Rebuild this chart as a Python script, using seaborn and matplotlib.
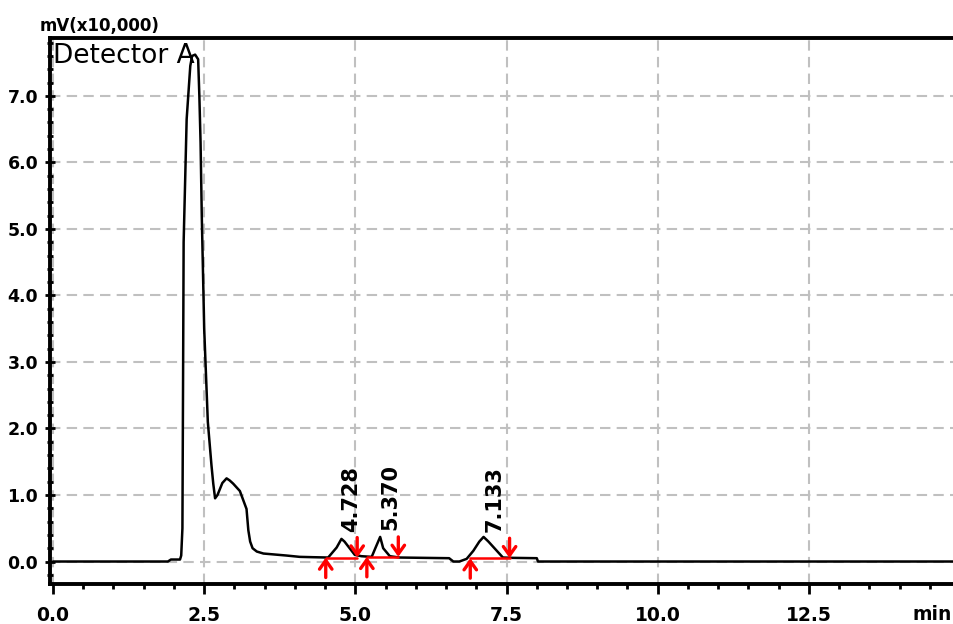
import numpy as np
import pandas as pd
import matplotlib
matplotlib.use("Agg")
import matplotlib.pyplot as plt
from matplotlib.ticker import MultipleLocator, FormatStrFormatter
import seaborn as sns

# Chromatogram trace (min, mV x10,000)
time = [0.0, 1.90, 1.95, 2.10, 2.12, 2.14, 2.15, 2.16, 2.21, 2.27, 2.30, 2.35,
        2.40, 2.42, 2.44, 2.46, 2.50, 2.56, 2.62, 2.65, 2.68, 2.72, 2.80, 2.87,
        2.92, 2.98, 3.09, 3.20, 3.23, 3.26, 3.30, 3.37, 3.48, 3.86, 4.08, 4.30,
        4.55, 4.69, 4.77, 4.82, 4.99, 5.10, 5.27, 5.33, 5.41, 5.46, 5.57, 5.73,
        6.55, 6.62, 6.72, 6.84, 6.95, 7.05, 7.12, 7.20, 7.44, 7.60, 8.00, 8.02,
        15.5]
signal = [0.0, 0.0, 0.03, 0.03, 0.09, 0.5, 2.6, 4.8, 6.65, 7.45, 7.6, 7.62,
          7.55, 7.0, 6.3, 5.2, 3.5, 2.1, 1.45, 1.17, 0.95, 1.0, 1.18, 1.25,
          1.22, 1.17, 1.06, 0.79, 0.47, 0.30, 0.2, 0.15, 0.12, 0.09, 0.07, 0.065,
          0.06, 0.21, 0.34, 0.30, 0.10, 0.08, 0.07, 0.2, 0.37, 0.2, 0.08, 0.06,
          0.05, 0.0, 0.0, 0.04, 0.16, 0.30, 0.37, 0.30, 0.06, 0.055, 0.05, 0.0,
          0.0]

# Integrated peaks
peak_labels = ["4.728", "5.370", "7.133"]
peak_label_x = [4.93, 5.58, 7.31]
peak_label_y = [0.45, 0.47, 0.44]
peak_start = [4.51, 5.19, 6.90]
peak_end = [5.03, 5.71, 7.55]
peak_base = [0.06, 0.07, 0.05]

x_ticks = [0.0, 2.5, 5.0, 7.5, 10.0, 12.5]
y_ticks = [0, 1, 2, 3, 4, 5, 6, 7]

trace = pd.DataFrame({"time": time, "signal": signal})

sns.set_style("white")
plt.rcParams["font.family"] = ["DejaVu Sans"]
plt.rcParams["text.color"] = "black"

fig = plt.figure(figsize=(9.54, 6.24), dpi=100)
ax = fig.add_axes([0.0524, 0.0641, 0.973, 0.875])

ax.set_xlim(-0.05, 15.3)
ax.set_ylim(-0.338, 7.87)

# grid
ax.set_axisbelow(True)
ax.grid(True, which="major", color="#c0c0c0", linestyle=(0, (5, 3)), linewidth=1.5)

sns.lineplot(data=trace, x="time", y="signal", ax=ax, color="black",
             linewidth=1.8, sort=False, estimator=None)

# integration baselines and start/stop arrows
arrow_style = "->,head_length=0.45,head_width=0.32"
for s, e, b in zip(peak_start, peak_end, peak_base):
    ax.plot([s, e], [b, b], color="red", linewidth=1.8, zorder=3)
    ax.annotate("", xy=(s, b), xytext=(s, b - 0.3),
                arrowprops=dict(arrowstyle=arrow_style, color="red", lw=2.4,
                                mutation_scale=14, shrinkA=0, shrinkB=0),
                zorder=4)
    ax.annotate("", xy=(e, b), xytext=(e, b + 0.3),
                arrowprops=dict(arrowstyle=arrow_style, color="red", lw=2.4,
                                mutation_scale=14, shrinkA=0, shrinkB=0),
                zorder=4)

for lab, lx, ly in zip(peak_labels, peak_label_x, peak_label_y):
    ax.text(lx, ly, lab, rotation=90, ha="center", va="bottom",
            fontsize=15, fontweight="bold", color="black")

ax.text(0.0, 7.80, "Detector A", ha="left", va="top", fontsize=19, color="black")

# axes styling
for side in ["left", "top", "bottom"]:
    ax.spines[side].set_linewidth(2.8)
    ax.spines[side].set_color("black")
ax.spines["right"].set_visible(False)

ax.set_xticks(x_ticks)
ax.xaxis.set_major_formatter(FormatStrFormatter("%.1f"))
ax.xaxis.set_minor_locator(MultipleLocator(0.5))
ax.set_yticks(y_ticks)
ax.yaxis.set_major_formatter(FormatStrFormatter("%.1f"))
ax.yaxis.set_minor_locator(MultipleLocator(0.2))

ax.tick_params(axis="x", which="major", direction="out", length=7, width=2,
               pad=9, labelsize=13.5, bottom=True, color="black",
               labelcolor="black")
ax.tick_params(axis="x", which="minor", direction="out", length=3.5, width=2,
               bottom=True, color="black")
ax.tick_params(axis="y", which="major", direction="inout", length=7, width=2,
               pad=5, labelsize=12.5, left=True, color="black",
               labelcolor="black")
ax.tick_params(axis="y", which="minor", direction="inout", length=5, width=2,
               left=True, color="black")
for lbl in ax.get_xticklabels() + ax.get_yticklabels():
    lbl.set_fontweight("bold")

ax.set_xlabel("")
ax.set_ylabel("")

fig.text(40 / 954, 1 - 26 / 624, "mV(x10,000)", ha="left", va="center",
         fontsize=12, fontweight="bold", color="black")
fig.text(952 / 954, 1 - 614 / 624, "min", ha="right", va="center",
         fontsize=13.5, fontweight="bold", color="black")

fig.savefig("out.png", dpi=100)
